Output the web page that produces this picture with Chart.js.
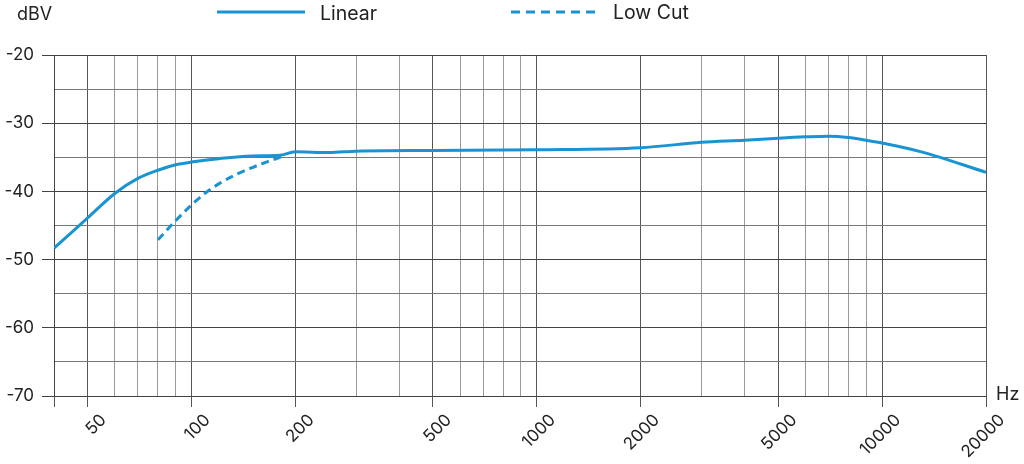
<!DOCTYPE html>
<html>
<head>
<meta charset="utf-8">
<script src="https://cdn.jsdelivr.net/npm/chart.js@4"></script>
<style>
  html, body { margin: 0; padding: 0; background: #fff; }
  #wrap { width: 1024px; height: 464px; }
</style>
</head>
<body>
<div id="wrap"><canvas id="fr" width="1024" height="464"></canvas></div>
<script>
// frequency response
var linearHz  = [40, 45, 50, 60, 70, 80, 90, 100, 120, 150, 180, 200, 250, 300, 500, 1000, 2000, 3000, 4000, 5000, 6000, 7000, 8000, 9000, 10000, 13000, 20000];
var linearDbv = [-48.3, -46.0, -43.9, -40.3, -38.1, -36.9, -36.1, -35.7, -35.2, -34.8, -34.7, -34.2, -34.3, -34.1, -34.0, -33.9, -33.6, -32.8, -32.5, -32.2, -32.0, -31.9, -32.1, -32.5, -32.9, -34.2, -37.2];
var lowCutHz  = [80, 90, 100, 110, 120, 135, 150, 165, 185];
var lowCutDbv = [-47.1, -44.3, -42.0, -40.2, -38.9, -37.5, -36.5, -35.7, -34.8];

var gridHz  = [40, 50, 60, 70, 80, 90, 100, 200, 300, 400, 500, 600, 700, 800, 900,
               1000, 2000, 3000, 4000, 5000, 6000, 7000, 8000, 9000, 10000, 20000];
var labelHz = [50, 100, 200, 500, 1000, 2000, 5000, 10000, 20000];

var blue = '#1a93d2';
var ink = '#222';
var fontFam = 'Inter, "Noto Sans", sans-serif';

function pts(xs, ys) {
  return xs.map(function(x, i) { return { x: x, y: ys[i] }; });
}

// legend + axis unit labels
var extras = {
  id: 'extras',
  afterDraw: function(chart) {
    var ctx = chart.ctx;
    ctx.save();
    ctx.lineWidth = 3;
    ctx.strokeStyle = blue;
    ctx.beginPath();
    ctx.moveTo(217, 12); ctx.lineTo(305, 12);
    ctx.stroke();
    ctx.setLineDash([9, 6]);
    ctx.beginPath();
    ctx.moveTo(511, 12); ctx.lineTo(600, 12);
    ctx.stroke();
    ctx.setLineDash([]);
    ctx.fillStyle = ink;
    ctx.textBaseline = 'middle';
    ctx.font = '19.5px ' + fontFam;
    ctx.fillText('Linear', 320, 14);
    ctx.fillText('Low Cut', 613, 13);
    ctx.font = '18px ' + fontFam;
    ctx.fillText('dBV', 17, 15);
    ctx.fillText('Hz', 996, 395);
    ctx.restore();
  }
};

new Chart(document.getElementById('fr'), {
  type: 'line',
  data: {
    datasets: [
      {
        label: 'Linear',
        data: pts(linearHz, linearDbv),
        borderColor: blue,
        borderWidth: 3,
        pointRadius: 0,
        cubicInterpolationMode: 'monotone'
      },
      {
        label: 'Low Cut',
        data: pts(lowCutHz, lowCutDbv),
        borderColor: blue,
        borderWidth: 3,
        borderDash: [8, 5],
        pointRadius: 0,
        cubicInterpolationMode: 'monotone'
      }
    ]
  },
  options: {
    responsive: false,
    animation: false,
    layout: { padding: { top: 55, right: 38, left: 0, bottom: 0 } },
    plugins: { legend: { display: false }, tooltip: { enabled: false } },
    scales: {
      x: {
        type: 'logarithmic',
        min: 40,
        max: 20000,
        afterBuildTicks: function(scale) {
          scale.ticks = gridHz.map(function(v) { return { value: v }; });
        },
        afterFit: function(scale) { scale.height = 68; },
        border: { color: '#444', width: 1 },
        grid: {
          color: function(c) {
            var v = c.tick && c.tick.value;
            return (labelHz.indexOf(v) >= 0 || v === 40) ? '#555' : '#999';
          },
          tickColor: function(c) {
            var v = c.tick && c.tick.value;
            return (labelHz.indexOf(v) >= 0 || v === 40) ? '#555' : 'rgba(0,0,0,0)';
          },
          tickLength: 11
        },
        ticks: {
          autoSkip: false,
          minRotation: 45,
          maxRotation: 45,
          padding: 3,
          labelOffset: 16,
          color: ink,
          font: { family: fontFam, size: 17 },
          callback: function(v) { return labelHz.indexOf(v) >= 0 ? String(v) : ''; }
        }
      },
      y: {
        min: -70,
        max: -20,
        afterFit: function(scale) { scale.width = 54; },
        border: { color: '#444', width: 1 },
        grid: {
          color: function(c) {
            return (c.tick && c.tick.value % 10 === 0) ? '#444' : '#777';
          },
          tickColor: function(c) {
            return (c.tick && c.tick.value % 10 === 0) ? '#444' : 'rgba(0,0,0,0)';
          },
          tickLength: 12
        },
        ticks: {
          stepSize: 5,
          padding: 8,
          color: ink,
          font: { family: fontFam, size: 17 },
          callback: function(v) { return v % 10 === 0 ? String(v) : ''; }
        }
      }
    }
  },
  plugins: [extras]
});
</script>
</body>
</html>
